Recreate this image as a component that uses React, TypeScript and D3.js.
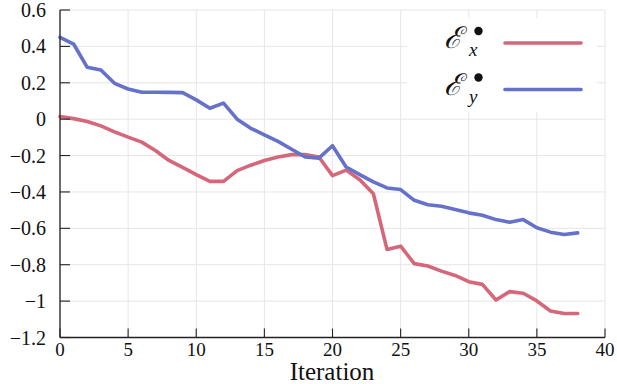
import React from "react";
import * as d3 from "d3";

const iterations = d3.range(0, 39);
const exValues = [0.014, 0.003, -0.013, -0.037, -0.07, -0.099, -0.126, -0.172, -0.227, -0.265, -0.305, -0.342, -0.342, -0.283, -0.253, -0.227, -0.208, -0.195, -0.195, -0.208, -0.31, -0.28, -0.333, -0.41, -0.716, -0.698, -0.794, -0.807, -0.835, -0.859, -0.893, -0.908, -0.994, -0.948, -0.957, -0.999, -1.054, -1.068, -1.068];
const eyValues = [0.45, 0.413, 0.285, 0.27, 0.197, 0.166, 0.148, 0.148, 0.147, 0.146, 0.106, 0.06, 0.088, 0.0, -0.05, -0.086, -0.122, -0.165, -0.208, -0.214, -0.146, -0.263, -0.305, -0.345, -0.378, -0.387, -0.446, -0.47, -0.479, -0.497, -0.515, -0.528, -0.552, -0.566, -0.552, -0.597, -0.621, -0.634, -0.625];
const xTicks = [0, 5, 10, 15, 20, 25, 30, 35, 40];
const yTicks = [0.6, 0.4, 0.2, 0, -0.2, -0.4, -0.6, -0.8, -1, -1.2];
const xLabel = "Iteration";
const seriesNames = [
  { base: "ℰ", sub: "x", color: "#d6677b", values: exValues },
  { base: "ℰ", sub: "y", color: "#6671c9", values: eyValues },
];

const W = 617;
const H = 384;
const L = 60, R = 605, T = 10, B = 337.5;
const FONT = "Liberation Serif, DejaVu Serif, serif";

export default function App() {
  const x = d3.scaleLinear().domain([0, 40]).range([L, R]);
  const y = d3.scaleLinear().domain([-1.2, 0.6]).range([B, T]);
  const fmt = d3.format("");
  const line = d3
    .line<number>()
    .x((_, i) => x(iterations[i]))
    .y((d) => y(d));

  const txt = { fontFamily: FONT, fill: "#111" } as React.CSSProperties;

  return (
    <svg width={W} height={H} style={{ position: "absolute", left: 0, top: 0, background: "#fff" }}>
      {/* grid */}
      {xTicks.map((t) => (
        <line key={"gx" + t} x1={x(t)} x2={x(t)} y1={T} y2={B} stroke="#e6e6e6" strokeWidth={1} />
      ))}
      {yTicks.map((t) => (
        <line key={"gy" + t} x1={L} x2={R} y1={y(t)} y2={y(t)} stroke="#e6e6e6" strokeWidth={1} />
      ))}
      {/* series */}
      {seriesNames.map((s) => (
        <path
          key={s.sub}
          d={line(s.values) || ""}
          fill="none"
          stroke={s.color}
          strokeWidth={3.6}
          strokeLinejoin="round"
          strokeLinecap="round"
        />
      ))}
      {/* axes */}
      <line x1={L} x2={L} y1={T} y2={B} stroke="#222" strokeWidth={1.3} />
      <line x1={L} x2={R} y1={B} y2={B} stroke="#222" strokeWidth={1.3} />
      {yTicks.map((t) => (
        <g key={"ty" + t}>
          <line x1={L} x2={L + 10} y1={y(t)} y2={y(t)} stroke="#222" strokeWidth={1.1} />
          <text x={L - 14} y={y(t)} dy="0.35em" textAnchor="end" style={{ ...txt, fontSize: 20 }}>
            {fmt(t)}
          </text>
        </g>
      ))}
      {xTicks.map((t) => (
        <g key={"tx" + t}>
          <line x1={x(t)} x2={x(t)} y1={B} y2={B - 9} stroke="#222" strokeWidth={1.1} />
          <text x={x(t)} y={B + 18} textAnchor="middle" style={{ ...txt, fontSize: 19 }}>
            {fmt(t)}
          </text>
        </g>
      ))}
      <text x={(L + R) / 2 - 0.5} y={380} textAnchor="middle" style={{ ...txt, fontSize: 25 }}>
        {xLabel}
      </text>
      {/* legend */}
      <rect x={407} y={18} width={190} height={94} fill="#fff" />
      {seriesNames.map((s, i) => {
        const cy = 43 + i * 46.5;
        return (
          <g key={"lg" + s.sub}>
            <text x={444} y={cy + 5} style={{ ...txt, fontFamily: "DejaVu Serif, serif", fontStyle: "italic", fontSize: 30 }}>
              {s.base}
            </text>
            <text x={469} y={cy + 13} style={{ ...txt, fontStyle: "italic", fontSize: 19 }}>
              {s.sub}
            </text>
            <circle cx={478.5} cy={cy - 12} r={4.2} fill="#111" />
            <line x1={505} x2={581} y1={cy} y2={cy} stroke={s.color} strokeWidth={3.6} strokeLinecap="round" />
          </g>
        );
      })}
    </svg>
  );
}
